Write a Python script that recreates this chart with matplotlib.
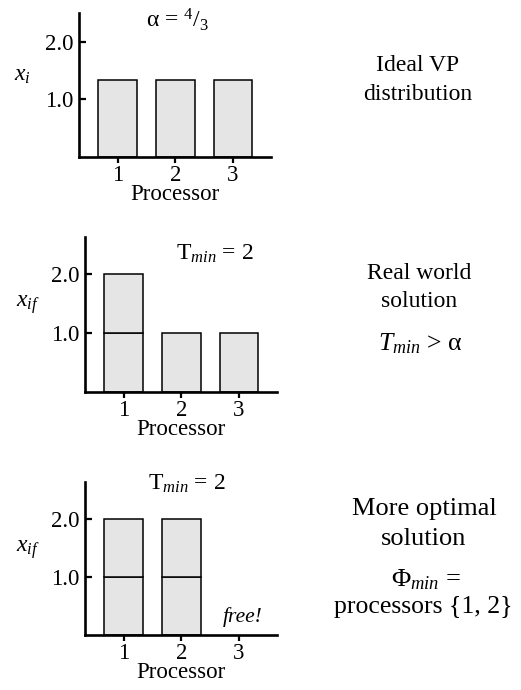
import matplotlib
matplotlib.use("Agg")
import matplotlib.pyplot as plt

plt.rcParams['font.family'] = ['Liberation Serif', 'DejaVu Serif']
plt.rcParams['mathtext.fontset'] = 'custom'
plt.rcParams['mathtext.rm'] = 'Liberation Serif'
plt.rcParams['mathtext.it'] = 'Liberation Serif:italic'
plt.rcParams['mathtext.bf'] = 'Liberation Serif:bold'

# ---- data ----
processors = [1, 2, 3]
ideal_values = [1.333, 1.333, 1.333]
real_lower = [1.0, 1.0, 1.0]
real_upper = [1.0, 0.0, 0.0]
opt_lower = [1.0, 1.0, 0.0]
opt_upper = [1.0, 1.0, 0.0]
yticks = [1.0, 2.0]
ytick_labels = ['1.0', '2.0']

W, H = 521, 690
fig = plt.figure(figsize=(W / 100, H / 100), dpi=100)

FACE = '#e5e5e5'
TICK_FS = 16.5


def px_axes(left, top, right, bottom):
    return fig.add_axes([left / W, 1 - bottom / H, (right - left) / W, (bottom - top) / H])


def style(ax, ymax, ylabel, ylabel_px):
    ax.set_xlim(0.33, 3.66)
    ax.set_ylim(0, ymax)
    for s in ['top', 'right']:
        ax.spines[s].set_visible(False)
    for s in ['left', 'bottom']:
        ax.spines[s].set_linewidth(1.9)
    ax.set_yticks(yticks)
    ax.set_yticklabels(ytick_labels)
    ax.set_xticks(processors)
    ax.set_xticklabels([str(p) for p in processors])
    ax.tick_params(axis='y', direction='in', length=5, width=1.6, pad=4, labelsize=TICK_FS)
    ax.tick_params(axis='x', direction='out', length=4.5, width=1.6, pad=1, labelsize=TICK_FS)
    ax.set_xlabel('Processor', fontsize=TICK_FS, labelpad=-1)
    x_px, y_px = ylabel_px
    fig.text(x_px / W, 1 - y_px / H, ylabel, fontsize=17, ha='center', va='center')


def bars(ax, lower, upper=None):
    xs = [p for p, v in zip(processors, lower) if v > 0]
    hs = [v for v in lower if v > 0]
    ax.bar(xs, hs, width=0.67, color=FACE, edgecolor='black', linewidth=1.1, zorder=2)
    if upper is not None:
        xs2 = [p for p, v, b in zip(processors, upper, lower) if v > 0]
        hs2 = [v for v in upper if v > 0]
        bs2 = [b for v, b in zip(upper, lower) if v > 0]
        ax.bar(xs2, hs2, bottom=bs2, width=0.67, color=FACE, edgecolor='black',
               linewidth=1.1, zorder=2)


# Panel 1
ax1 = px_axes(79, 13, 271, 157)
bars(ax1, ideal_values)
style(ax1, 2.5, r'$x_i$', (22, 75))
fig.text(177 / W, 1 - 27 / H, r'α = $^{4}/_{3}$', fontsize=17, ha='center', va='baseline')

# Panel 2
ax2 = px_axes(85, 237, 277, 392)
bars(ax2, real_lower, real_upper)
style(ax2, 2.63, r'$x_{if}$', (28, 305))
fig.text(215 / W, 1 - 260 / H, r'T$_{min}$ = 2', fontsize=17, ha='center', va='baseline')

# Panel 3
ax3 = px_axes(85, 482, 277, 635)
bars(ax3, opt_lower, opt_upper)
style(ax3, 2.64, r'$x_{if}$', (28, 550))
fig.text(187 / W, 1 - 490 / H, r'T$_{min}$ = 2', fontsize=17, ha='center', va='baseline')
fig.text(243 / W, 1 - 622 / H, 'free!', fontsize=15.5, style='italic', ha='center', va='baseline')

# Right-hand annotations
def rtext(x, y, s, fs):
    fig.text(x / W, 1 - y / H, s, fontsize=fs, ha='center', va='baseline')

rtext(418, 71, 'Ideal VP', 17)
rtext(418, 100, 'distribution', 17)
rtext(419, 279, 'Real world', 17)
rtext(419, 307, 'solution', 17)
rtext(420, 350, r'$T_{min}$ > α', 18.5)
rtext(424, 515, 'More optimal', 19)
rtext(424, 545, 'solution', 19)
rtext(426, 586, r'Φ$_{min}$ =', 19)
rtext(423, 613, 'processors {1, 2}', 18.5)

fig.savefig('out.png', dpi=100)
